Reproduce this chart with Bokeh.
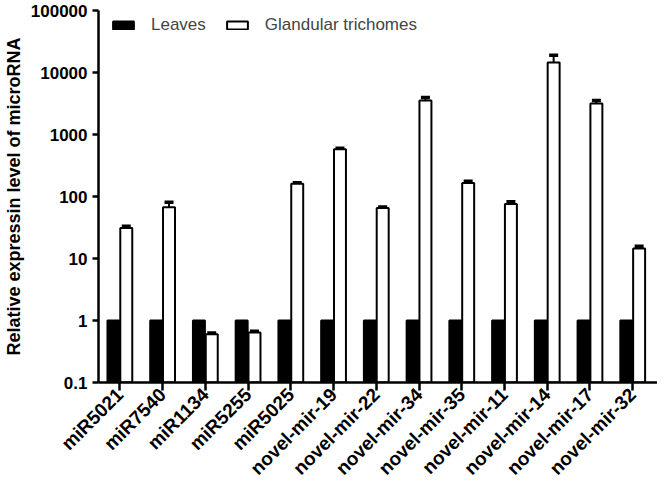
import math
import numpy as np
from bokeh.plotting import figure
from bokeh.models import (Range1d, FixedTicker, Whisker, ColumnDataSource, Legend,
                          LegendItem, TeeHead, CustomJSTickFormatter)
from bokeh.embed import file_html
from bokeh.resources import INLINE

categories = ["miR5021", "miR7540", "miR1134", "miR5255", "miR5025", "novel-mir-19",
              "novel-mir-22", "novel-mir-34", "novel-mir-35", "novel-mir-11",
              "novel-mir-14", "novel-mir-17", "novel-mir-32"]
leaves = [1, 1, 1, 1, 1, 1, 1, 1, 1, 1, 1, 1, 1]
trichomes = [31, 67, 0.60, 0.64, 160, 580, 65, 3550, 165, 76, 14500, 3150, 14.5]
trichomes_err = [2, 14, 0.03, 0.03, 6, 20, 3, 400, 12, 6, 4500, 400, 1.3]
y_ticks = [0.1, 1, 10, 100, 1000, 10000, 100000]

FONT = "Liberation Sans"

idx = np.arange(len(categories))
src = ColumnDataSource(dict(
    x_leaf=idx - 0.15, x_tri=idx + 0.15,
    leaves=leaves, tri=trichomes,
    upper=[v + e for v, e in zip(trichomes, trichomes_err)],
))

p = figure(width=657, height=489, y_axis_type="log",
           x_range=Range1d(-0.5, 12.58), y_range=Range1d(0.1, 100000),
           output_backend="svg", toolbar_location=None,
           min_border_left=10, min_border_right=0, min_border_top=10, min_border_bottom=104)
p.grid.visible = False
p.outline_line_color = None

r1 = p.vbar(x="x_leaf", top="leaves", bottom=0.1, width=0.28, source=src,
            fill_color="black", line_color="black", line_width=2)
r2 = p.vbar(x="x_tri", top="tri", bottom=0.1, width=0.28, source=src,
            fill_color="white", line_color="black", line_width=2)
wh = Whisker(source=src, base="x_tri", lower="tri", upper="upper", dimension="height",
             line_width=2, line_color="black",
             upper_head=TeeHead(size=9, line_width=3.5, line_color="black"), lower_head=None)
p.add_layout(wh)

for ax in (p.xaxis[0], p.yaxis[0]):
    ax.axis_line_width = 2.5
    ax.major_tick_line_width = 2.5
    ax.minor_tick_line_color = None
    ax.major_tick_in = 0
    ax.major_label_text_font = FONT
    ax.major_label_text_font_style = "bold"
    ax.major_label_text_color = "black"
    ax.axis_line_color = "black"
    ax.major_tick_line_color = "black"

p.yaxis.ticker = FixedTicker(ticks=y_ticks)
p.yaxis.formatter = CustomJSTickFormatter(code="return String(+tick.toPrecision(6));")
p.yaxis.major_tick_out = 6
p.yaxis.major_label_standoff = 5
p.yaxis.major_label_text_font_size = "17px"
p.yaxis.axis_label = "Relative expressin level of microRNA"
p.yaxis.axis_label_text_font = FONT
p.yaxis.axis_label_text_font_style = "bold"
p.yaxis.axis_label_text_font_size = "18px"
p.yaxis.axis_label_text_color = "black"
p.yaxis.axis_label_standoff = 4

p.xaxis.ticker = FixedTicker(ticks=list(range(len(categories))))
p.xaxis.formatter = CustomJSTickFormatter(args=dict(labels=categories),
                                          code="return labels[Math.round(tick)];")
p.xaxis.major_tick_out = 8
p.xaxis.major_label_standoff = 1
p.xaxis.major_label_text_font_size = "19px"
p.xaxis.major_label_orientation = math.pi / 4

legend = Legend(items=[LegendItem(label="Leaves", renderers=[r1]),
                       LegendItem(label="Glandular trichomes", renderers=[r2])],
                orientation="horizontal", location=(12, 347),
                border_line_color=None, background_fill_alpha=0,
                label_text_font=FONT, label_text_font_size="17px",
                glyph_width=26, glyph_height=10, label_standoff=15, spacing=18,
                padding=0, margin=0)
p.add_layout(legend)

open("out.html", "w").write(file_html(p, INLINE))
